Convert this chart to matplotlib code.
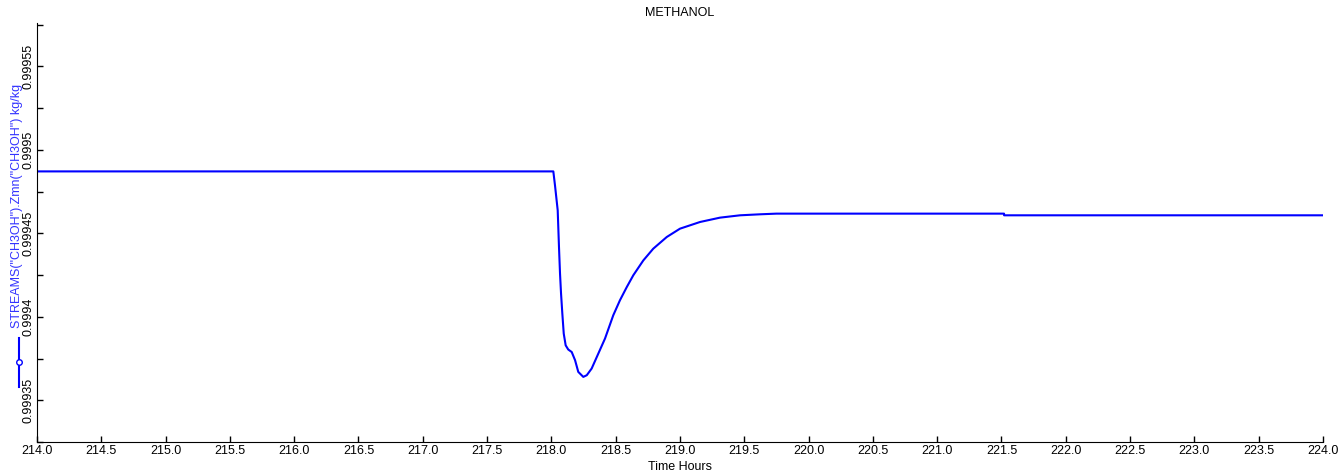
import numpy as np
import matplotlib.pyplot as plt
from matplotlib.lines import Line2D
from matplotlib.ticker import MultipleLocator, FormatStrFormatter

plt.rcParams['font.family'] = ['Liberation Sans', 'DejaVu Sans']
plt.rcParams['font.size'] = 9

time_h = [214.0, 218.0, 218.015, 218.028, 218.049, 218.059, 218.067, 218.075,
          218.085, 218.096, 218.111, 218.131, 218.158, 218.184, 218.209,
          218.248, 218.275, 218.313, 218.365, 218.417, 218.481, 218.533,
          218.586, 218.637, 218.715, 218.792, 218.897, 219.0, 219.156,
          219.311, 219.467, 219.622, 219.75, 221.52, 221.52, 224.0]
zmn = [0.9994871, 0.9994871, 0.9994871, 0.9994787, 0.9994638, 0.9994418,
       0.9994259, 0.9994139, 0.9994019, 0.9993899, 0.9993829, 0.9993804,
       0.9993789, 0.9993740, 0.9993670, 0.9993640, 0.9993650, 0.9993690,
       0.9993780, 0.9993870, 0.9994009, 0.9994099, 0.9994178, 0.9994249,
       0.9994338, 0.9994408, 0.9994478, 0.9994528, 0.9994568, 0.9994594,
       0.9994608, 0.9994614, 0.9994618, 0.9994618, 0.9994608, 0.9994608]

fig = plt.figure(figsize=(13.41, 4.75), dpi=100)
ax = fig.add_axes([37 / 1341, 33 / 475, (1323 - 37) / 1341, (442 - 23) / 475])

ax.plot(time_h, zmn, color='#0000ff', lw=1.5)

ax.set_xlim(214.0, 224.0)
ax.set_ylim(0.999325, 0.999576)
ax.xaxis.set_major_locator(MultipleLocator(0.5))
ax.xaxis.set_major_formatter(FormatStrFormatter('%.1f'))
ax.yaxis.set_major_locator(MultipleLocator(0.00005))
ax.yaxis.set_minor_locator(MultipleLocator(0.000025))
ax.yaxis.set_major_formatter(FormatStrFormatter('%g'))
ax.tick_params(which='both', direction='in', length=4, width=1, pad=2, labelsize=9)
for lab in ax.get_yticklabels():
    lab.set_rotation(90)
    lab.set_va('center')

for side in ['top', 'right']:
    ax.spines[side].set_visible(False)

ax.set_title('METHANOL', fontsize=9, pad=5)
ax.set_xlabel('Time Hours', fontsize=9, labelpad=3)

fig.text(17 / 1341, 1 - 206 / 475, 'STREAMS("CH3OH").Zmn("CH3OH") kg/kg',
         rotation=90, ha='center', va='center', color='#3333ff', fontsize=9)
fig.add_artist(Line2D([19 / 1341, 19 / 1341], [1 - 338 / 475, 1 - 387 / 475],
                      color='#0000ff', lw=1.5))
fig.add_artist(Line2D([19 / 1341], [1 - 362 / 475], marker='o', markersize=4,
                      markerfacecolor='white', markeredgecolor='#0000ff', lw=0))

fig.savefig('out.png', dpi=100)
